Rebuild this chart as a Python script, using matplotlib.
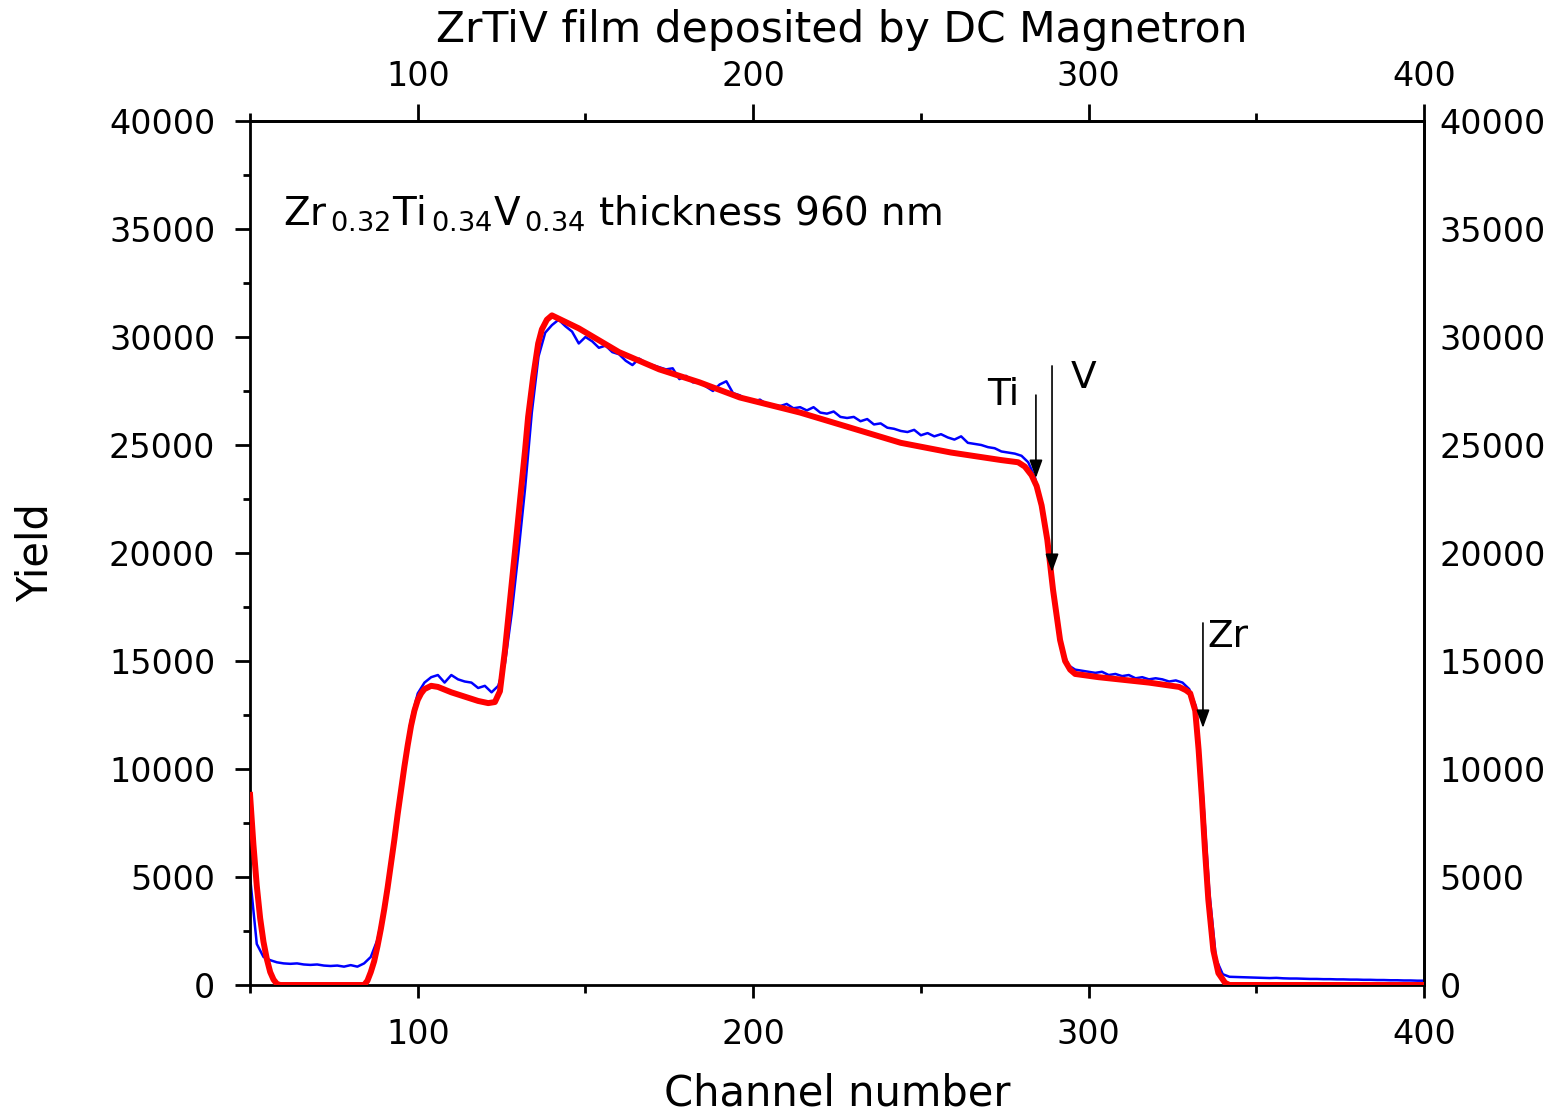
import numpy as np
import matplotlib
matplotlib.use("Agg")
import matplotlib.pyplot as plt
from matplotlib.ticker import MultipleLocator

plt.rcParams['font.family'] = ['DejaVu Sans']
plt.rcParams['mathtext.fontset'] = 'dejavusans'

# measured spectrum (blue), every 2 channels from 50 to 400
meas_ch = np.arange(50, 401, 2)
meas_yield = [
    5000, 1900, 1300, 1150, 1050, 1000, 980, 1000, 950, 930,
    950, 900, 880, 900, 850, 920, 850, 1000, 1300, 2100,
    3600, 5500, 7900, 10300, 12300, 13500, 14000, 14250, 14350, 14000,
    14350, 14150, 14050, 14000, 13750, 13850, 13550, 13850, 14900, 17200,
    20000, 23000, 26500, 29100, 30200, 30550, 30800, 30500, 30250, 29700,
    30000, 29800, 29500, 29600, 29300, 29200, 28900, 28700, 29000, 28800,
    28700, 28600, 28500, 28550, 28050, 28200, 27900, 27900, 27700, 27500,
    27800, 27950, 27400, 27300, 27100, 27000, 27100, 26900, 26850, 26800,
    26900, 26700, 26750, 26600, 26750, 26500, 26450, 26550, 26300, 26250,
    26300, 26100, 26200, 25950, 26000, 25800, 25750, 25650, 25600, 25700,
    25450, 25550, 25400, 25500, 25350, 25250, 25400, 25100, 25050, 25000,
    24900, 24850, 24700, 24650, 24600, 24500, 24200, 23500, 22200, 20200,
    17600, 15600, 14800, 14600, 14550, 14500, 14450, 14500, 14350, 14400,
    14300, 14350, 14200, 14250, 14150, 14200, 14150, 14050, 14100, 14000,
    13700, 12900, 9000, 4300, 1200, 500, 380, 370, 360, 350,
    340, 330, 320, 330, 310, 300, 300, 290, 280, 280,
    270, 270, 260, 260, 250, 250, 240, 240, 230, 230,
    220, 220, 210, 210, 200, 200,
]

# simulation (red)
sim_ch = [50, 51, 52, 53, 54, 55, 56, 57, 58, 59, 84, 85, 86, 87, 88, 89, 90,
          91, 92, 93, 94, 95, 96, 97, 98, 99, 100, 101, 102, 104, 106, 110,
          114, 118, 121, 123, 124.5, 126, 127.5, 129, 130.5, 132, 132.9,
          134.4, 135.9, 137, 138.5, 140, 142, 148, 160, 172, 184, 196, 214,
          229, 244, 259, 274, 279, 281, 283, 284.5, 286, 287.7, 289.4, 291.5,
          293, 294.5, 296, 303, 318, 327, 329, 330.3, 331.8, 332.8, 333.8,
          334.7, 335.7, 337.2, 338.7, 340.7, 342, 400]
sim_yield = [8800, 6500, 4600, 3100, 2000, 1200, 600, 250, 50, 0, 0, 200, 600,
             1100, 1800, 2600, 3500, 4500, 5600, 6700, 7900, 9000, 10100,
             11100, 12000, 12700, 13200, 13500, 13700, 13850, 13800, 13550,
             13350, 13150, 13050, 13100, 13600, 15500, 17800, 20100, 22450,
             24770, 26300, 28150, 29700, 30350, 30800, 31000, 30850, 30400,
             29300, 28500, 27900, 27200, 26500, 25800, 25100, 24650, 24300,
             24200, 24000, 23600, 23100, 22200, 20600, 18300, 15970, 15000,
             14600, 14400, 14250, 14000, 13800, 13650, 13500, 12700, 10900,
             8600, 6250, 3950, 1600, 550, 100, 0, 0]

# edge markers: (label, channel, arrow top, arrow tip, text x, text y)
edges = [("Ti", 284.3, 27310, 23470, 274.5, 27310),
         ("V", 289.1, 28660, 19120, 298.5, 28100),
         ("Zr", 334.1, 16760, 11900, 341.5, 16100)]

fig = plt.figure(figsize=(15.59, 11.14), dpi=100)
ax = fig.add_axes([0.1604, 0.1158, 0.7530, 0.7756])

ax.plot(meas_ch, meas_yield, color='#0000ff', lw=1.8, zorder=2)
ax.plot(sim_ch, sim_yield, color='#ff0000', lw=4.3, zorder=3)

for name, ch, ytop, ytip, tx, ty in edges:
    ax.annotate('', xy=(ch, ytip), xytext=(ch, ytop),
                arrowprops=dict(arrowstyle='-|>,head_length=0.55,head_width=0.2',
                                color='black', lw=1.2, mutation_scale=20,
                                shrinkA=0, shrinkB=0), zorder=4)
    ax.text(tx, ty, name, fontsize=27, ha='center', va='center')

ax.text(59.8, 35185,
        r'Zr$_{\,0.32}$Ti$_{\,0.34}$V$_{\,0.34}$ thickness 960 nm',
        fontsize=28, ha='left', va='baseline')

ax.set_xlim(50, 400)
ax.set_ylim(0, 40000)
for s in ax.spines.values():
    s.set_linewidth(2)

ax.xaxis.set_major_locator(MultipleLocator(100))
ax.xaxis.set_minor_locator(MultipleLocator(50))
ax.yaxis.set_major_locator(MultipleLocator(5000))
ax.yaxis.set_minor_locator(MultipleLocator(2500))
ax.tick_params(axis='y', which='major', direction='out', length=11, width=2,
               labelsize=24, pad=14)
ax.tick_params(axis='y', which='minor', direction='out', length=5, width=2)
ax.tick_params(axis='x', which='major', direction='out', length=9.5, width=2,
               labelsize=24, pad=14)
ax.tick_params(axis='x', which='minor', direction='out', length=6, width=2)

top = ax.secondary_xaxis('top')
top.xaxis.set_major_locator(MultipleLocator(100))
top.xaxis.set_minor_locator(MultipleLocator(50))
top.tick_params(which='major', direction='out', length=12, width=2, labelsize=24, pad=8)
top.tick_params(which='minor', direction='out', length=6, width=2)
top.spines['top'].set_linewidth(2)

right = ax.secondary_yaxis('right')
right.yaxis.set_major_locator(MultipleLocator(5000))
right.tick_params(which='both', length=0, labelsize=24, pad=11)
right.spines['right'].set_linewidth(2)

ax.set_xlabel('Channel number', fontsize=30)
ax.xaxis.set_label_coords(0.5, -0.101)
ax.set_ylabel('Yield', fontsize=30)
ax.yaxis.set_label_coords(-0.165, 0.5)

fig.text(0.54, 1 - 30 / 1114, 'ZrTiV film deposited by DC Magnetron',
         fontsize=30.5, ha='center', va='center')

fig.savefig('out.png', dpi=100)
